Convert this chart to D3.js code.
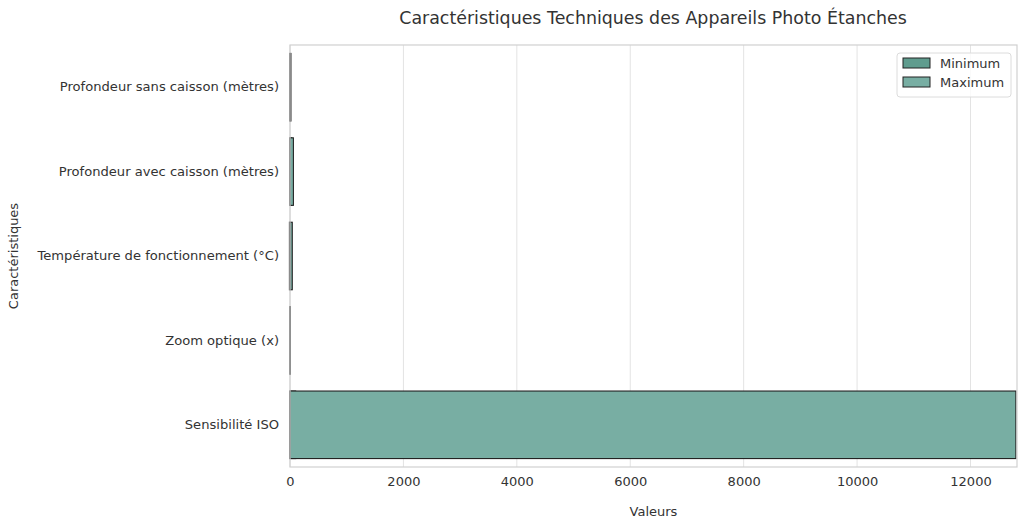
<!DOCTYPE html>
<html>
<head>
<meta charset="utf-8">
<script src="https://cdn.jsdelivr.net/npm/d3@7"></script>
<style>
  body { margin: 0; background: #fff; }
  text { font-family: "DejaVu Sans", sans-serif; fill: #333; }
</style>
</head>
<body>
<div id="chart"></div>
<script>
var categories = [
    "Profondeur sans caisson (mètres)",
    "Profondeur avec caisson (mètres)",
    "Température de fonctionnement (°C)",
    "Zoom optique (x)",
    "Sensibilité ISO"
];
var minValues = [10, 30, -10, 1, 100];
var maxValues = [15, 60, 40, 5, 12800];
var seriesNames = ["Minimum", "Maximum"];
var seriesColors = ["#5f9c8e", "#78aea3"];
var xTicks = [0, 2000, 4000, 6000, 8000, 10000, 12000];

var W = 1024, H = 527;
var margin = {left: 290, right: 7, top: 45, bottom: 60};
var width = W - margin.left - margin.right;
var height = H - margin.top - margin.bottom;

var svg = d3.select("#chart").append("svg")
    .attr("width", W)
    .attr("height", H);

var g = svg.append("g")
    .attr("transform", "translate(" + margin.left + "," + margin.top + ")");

var x = d3.scaleLinear().domain([0, 12820]).range([0, width]);
var y = d3.scaleBand().domain(categories).range([0, height]).paddingInner(0.2).paddingOuter(0.1);

// grid
g.selectAll(".grid").data(xTicks).enter().append("line")
    .attr("x1", d => x(d)).attr("x2", d => x(d))
    .attr("y1", 0).attr("y2", height)
    .attr("stroke", "#e3e3e3").attr("stroke-width", 1);

// bars: min first, max drawn over it
var series = [minValues, maxValues];
series.forEach(function (vals, si) {
    g.selectAll(".bar" + si).data(vals).enter().append("rect")
        .attr("x", d => x(Math.min(0, d)))
        .attr("y", (d, i) => y(categories[i]))
        .attr("width", d => Math.abs(x(d) - x(0)))
        .attr("height", y.bandwidth())
        .attr("fill", seriesColors[si])
        .attr("stroke", "#222")
        .attr("stroke-width", 1.1);
});

// frame
g.append("rect")
    .attr("width", width).attr("height", height)
    .attr("fill", "none").attr("stroke", "#d0d0d0").attr("stroke-width", 1.2);

// axes
var xAxis = g.append("g")
    .attr("transform", "translate(0," + height + ")")
    .call(d3.axisBottom(x).tickValues(xTicks).tickSize(0).tickPadding(10).tickFormat(d3.format("d")));
xAxis.select(".domain").remove();
xAxis.selectAll("text").style("font-size", "13px").attr("fill", "#333");

var yAxis = g.append("g")
    .call(d3.axisLeft(y).tickSize(0).tickPadding(11));
yAxis.select(".domain").remove();
yAxis.selectAll("text").style("font-size", "13.1px").attr("fill", "#333");

// labels
svg.append("text")
    .attr("x", margin.left + width / 2 - 0.5).attr("y", 24)
    .attr("text-anchor", "middle")
    .style("font-size", "17.4px")
    .text("Caractéristiques Techniques des Appareils Photo Étanches");

svg.append("text")
    .attr("x", margin.left + width / 2).attr("y", 516)
    .attr("text-anchor", "middle")
    .style("font-size", "13px")
    .text("Valeurs");

svg.append("text")
    .attr("transform", "translate(18," + (margin.top + height / 2) + ") rotate(-90)")
    .attr("text-anchor", "middle")
    .style("font-size", "13px")
    .text("Caractéristiques");

// legend
var leg = svg.append("g").attr("transform", "translate(897,53)");
leg.append("rect")
    .attr("width", 114).attr("height", 44).attr("rx", 3)
    .attr("fill", "#fff").attr("fill-opacity", 0.8)
    .attr("stroke", "#dcdcdc");
seriesNames.forEach(function (name, i) {
    leg.append("rect")
        .attr("x", 6).attr("y", 5 + i * 19)
        .attr("width", 27).attr("height", 10)
        .attr("fill", seriesColors[i]).attr("stroke", "#222").attr("stroke-width", 1);
    leg.append("text")
        .attr("x", 43).attr("y", 14.5 + i * 19)
        .style("font-size", "13px")
        .text(name);
});
</script>
</body>
</html>
